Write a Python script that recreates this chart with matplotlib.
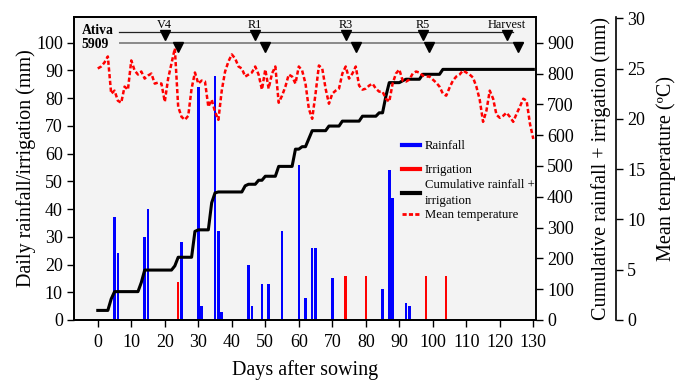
import numpy as np
import matplotlib
matplotlib.use('Agg')
import matplotlib.pyplot as plt
from matplotlib.lines import Line2D

plt.rcParams['font.family'] = ['Liberation Serif', 'DejaVu Serif']

# daily rainfall (mm), by day after sowing
rain_days = [5, 6, 14, 15, 25, 30, 31, 35, 36, 37, 45, 46, 49, 51, 55, 60, 62, 64, 65, 70, 85, 87, 88, 92, 93]
rain_mm = [37, 24, 30, 40, 28, 84, 5, 88, 32, 3, 20, 5, 13, 13, 32, 56, 8, 26, 26, 15, 11, 54, 44, 6, 5]

# irrigation (mm)
irr_days = [24, 74, 80, 98, 104]
irr_mm = [13.6, 16, 16, 16, 16]

# water already counted at sowing (mm)
start_mm = 31

# mean daily temperature (C), days 0..130
temp = [25.0, 25.2, 25.6, 26.2, 22.5, 22.8, 21.8, 21.6, 23.2, 22.9,
        25.8, 24.8, 24.4, 24.7, 24.0, 24.3, 24.5, 23.5, 23.6, 23.5,
        21.7, 24.0, 25.5, 27.0, 21.2, 20.2, 19.9, 20.3, 23.0, 24.6,
        23.5, 23.8, 23.7, 21.2, 21.9, 20.7, 19.9, 22.8, 24.7, 25.7,
        26.4, 26.0, 25.2, 25.0, 24.2, 24.4, 24.6, 25.2, 24.4, 22.9,
        24.9, 23.0, 24.5, 25.2, 21.6, 22.3, 23.2, 24.4, 24.2, 23.5,
        25.2, 24.8, 23.5, 21.0, 20.0, 22.5, 25.3, 25.0, 23.0, 21.5,
        22.5, 22.8, 23.0, 24.5, 25.2, 24.0, 24.5, 25.2, 23.3, 22.9,
        23.0, 23.3, 23.5, 23.0, 22.7, 22.7, 22.0, 21.7, 23.5, 24.5,
        24.9, 23.8, 23.7, 23.9, 24.5, 24.7, 24.6, 24.3, 24.2, 24.2,
        23.9, 23.6, 23.2, 22.5, 22.3, 23.1, 23.8, 24.2, 24.4, 24.8,
        24.6, 24.4, 24.1, 23.2, 21.9, 19.7, 20.8, 22.8, 22.0, 20.4,
        20.1, 20.3, 20.6, 20.2, 19.7, 20.5, 21.2, 22.0, 21.8, 19.5,
        18.0]

# phenological stages (two rows of markers)
stage_names = ['V4', 'R1', 'R3', 'R5', 'Harvest']
stage_days_top = [20, 47, 74, 97, 122]
stage_days_low = [24, 50, 77, 99, 125.5]
stage_line_top = [6.4, 124]
stage_line_low = [6.7, 127]

days = np.arange(len(temp))

# cumulative rainfall + irrigation
total = np.zeros(len(days))
total[rain_days] += rain_mm
total[irr_days] += irr_mm
cum = start_mm + np.cumsum(total)
# the published curve leads the bars by about a day
cum_line = np.append(cum[1:], cum[-1])

fig = plt.figure(figsize=(6.87, 3.80), dpi=100)
ax = fig.add_axes([0.1077, 0.158, 0.6725, 0.798])
ax.set_facecolor('#f3f3f3')

ax.bar(rain_days, rain_mm, width=0.75, color='#0000ff', zorder=2)
ax.bar(irr_days, irr_mm, width=0.75, color='#ff0000', zorder=2)

ax.set_xlim(-7.1, 130.8)
ax.set_ylim(0, 109.4)
ax.set_xticks(range(0, 131, 10))
ax.set_yticks(range(0, 101, 10))
ax.set_xlabel('Days after sowing', fontsize=14.5, labelpad=7)
ax.set_ylabel('Daily rainfall/irrigation (mm)', fontsize=14.5)
ax.yaxis.set_label_coords(-0.083, 0.5)

# stage markers
ax.plot(stage_line_top, [104.0, 104.0], color='#222222', lw=0.9, zorder=3)
ax.plot(stage_line_low, [99.8, 99.8], color='#8a8a8a', lw=1.4, zorder=3)
ax.plot(stage_days_top, [102.8] * 5, 'v', color='black', ms=6.5, zorder=4)
ax.plot(stage_days_low, [98.3] * 5, 'v', color='black', ms=6.5, zorder=4)
for name, d in zip(stage_names, stage_days_top):
    ax.text(d, 106.4, name, fontsize=8.8, ha='center', va='center')
ax.text(-4.8, 104.5, 'Ativa', fontsize=9.8, fontweight='bold', ha='left', va='center')
ax.text(-4.8, 99.2, '5909', fontsize=9.8, fontweight='bold', ha='left', va='center')

# cumulative axis
ax2 = ax.twinx()
ax2.plot(days, cum_line, color='black', lw=2.2)
ax2.set_ylim(0, 984.6)
ax2.set_yticks(range(0, 901, 100))
ax2.set_ylabel('Cumulative rainfall + irrigation (mm)', fontsize=14.5)
ax2.yaxis.set_label_coords(1.119, 0.5)

# temperature axis
ax3 = ax.twinx()
ax3.spines['right'].set_position(('outward', 57.6))
ax3.plot(days, temp, color='#ff0000', lw=1.8, linestyle=(0, (1.7, 1.0)))
ax3.set_ylim(0, 30.15)
ax3.set_yticks(range(0, 31, 5))
ax3.set_ylabel('Mean temperature (\u00baC)', fontsize=14.5)
ax3.yaxis.set_label_coords(1.261, 0.5)

for a in [ax, ax2, ax3]:
    a.tick_params(labelsize=13, direction='out', length=5, width=1, pad=3)
    for s in a.spines.values():
        s.set_linewidth(1.2)
ax.tick_params(axis='x', pad=5)

# legend
h1 = [Line2D([], [], color='#0000ff', lw=3)]
h2 = [Line2D([], [], color='#ff0000', lw=3),
      Line2D([], [], color='black', lw=3),
      Line2D([], [], color='#ff0000', lw=2, linestyle=(0, (1.5, 0.8)))]
leg1 = ax3.legend(h1, ['Rainfall'], loc='upper left', bbox_to_anchor=(0.709, 0.593),
                  frameon=False, fontsize=9.2, handlelength=1.45, handletextpad=0.35,
                  borderpad=0, borderaxespad=0)
ax3.add_artist(leg1)
leg2 = ax3.legend(h2, ['Irrigation', 'Cumulative rainfall +\nirrigation', 'Mean temperature'],
                  loc='upper left', bbox_to_anchor=(0.709, 0.514), frameon=False, fontsize=9.2,
                  handlelength=1.45, handletextpad=0.35, labelspacing=0.22, borderpad=0,
                  borderaxespad=0)
for t in leg2.get_texts():
    t.set_linespacing(1.4)

plt.savefig('out.png', dpi=100)
